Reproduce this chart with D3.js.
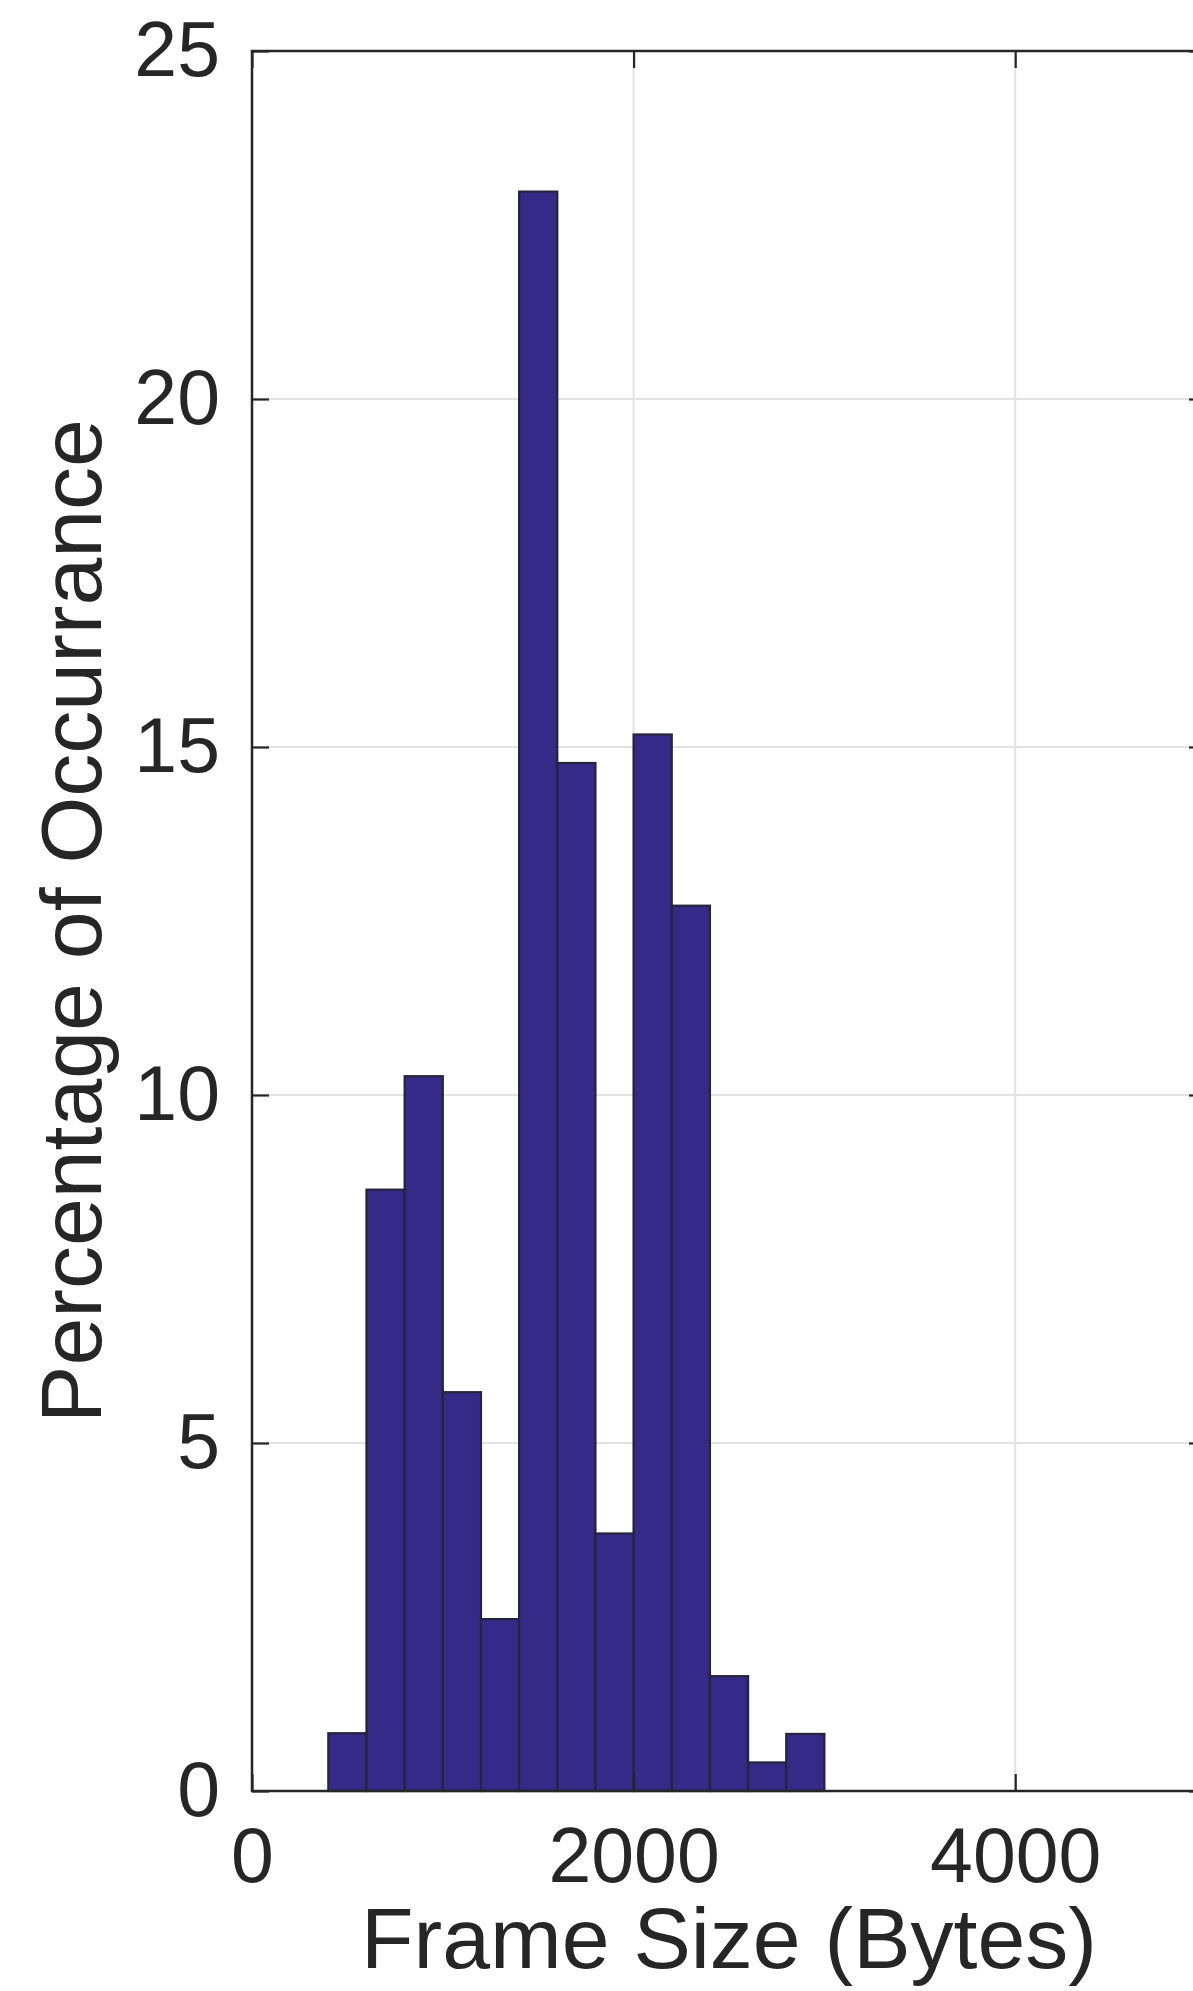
<!DOCTYPE html>
<html>
<head>
<meta charset="utf-8">
<script src="https://cdn.jsdelivr.net/npm/d3@7"></script>
<style>
  html, body { margin: 0; padding: 0; background: #fff; overflow: hidden; }
  svg { display: block; }
  text { font-family: "Liberation Sans", Arial, Helvetica, sans-serif; fill: #262626; }
</style>
</head>
<body>
<svg id="chart" width="1193" height="1991"></svg>
<script>
// Histogram of frame sizes: bin edges (bytes) and share of frames per bin (%)
const binEdges = [400, 600, 800, 1000, 1200, 1400, 1600, 1800, 2000, 2200, 2400, 2600, 2800, 3000];
const percentages = [0.83, 8.64, 10.27, 5.73, 2.47, 22.98, 14.77, 3.70, 15.18, 12.72, 1.65, 0.41, 0.82];
const xTicks = [0, 2000, 4000];
const yTicks = [0, 5, 10, 15, 20, 25];
const xLabel = "Frame Size (Bytes)";
const yLabel = "Percentage of Occurrance";

const bins = percentages.map((v, i) => ({ x0: binEdges[i], x1: binEdges[i + 1], value: v }));

const plot = { left: 252, right: 1206, top: 51, bottom: 1791 };
const tickLen = 17;
const axisColor = "#262626";
const gridColor = "#e2e2e2";

const x = d3.scaleLinear().domain([0, 5000]).range([plot.left, plot.right]);
const y = d3.scaleLinear().domain([0, 25]).range([plot.bottom, plot.top]);

const svg = d3.select("#chart");

// grid lines
const grid = svg.append("g");
grid.selectAll("line.gx").data(xTicks.filter(t => t > 0)).join("line")
  .attr("class", "gx")
  .attr("x1", d => x(d)).attr("x2", d => x(d))
  .attr("y1", plot.top).attr("y2", plot.bottom)
  .attr("stroke", gridColor).attr("stroke-width", 2);
grid.selectAll("line.gy").data(yTicks.filter(t => t > 0 && t < 25)).join("line")
  .attr("class", "gy")
  .attr("x1", plot.left).attr("x2", plot.right)
  .attr("y1", d => y(d)).attr("y2", d => y(d))
  .attr("stroke", gridColor).attr("stroke-width", 2);

// histogram bars
svg.append("g").selectAll("rect").data(bins).join("rect")
  .attr("x", d => x(d.x0))
  .attr("width", d => x(d.x1) - x(d.x0))
  .attr("y", d => y(d.value))
  .attr("height", d => y(0) - y(d.value))
  .attr("fill", "#352a87")
  .attr("stroke", "#26243a")
  .attr("stroke-width", 2.2);

// axes with inward ticks on all four sides
function styleAxis(g) {
  g.selectAll(".domain").remove();
  g.selectAll(".tick line").attr("stroke", axisColor).attr("stroke-width", 2.2);
  g.selectAll(".tick text").attr("fill", axisColor).attr("font-size", 77)
    .attr("font-family", '"Liberation Sans", Arial, Helvetica, sans-serif');
}

svg.append("g").attr("transform", `translate(0,${plot.bottom})`)
  .call(d3.axisBottom(x).tickValues(xTicks).tickSize(-tickLen).tickPadding(36).tickFormat(d3.format("d")))
  .call(styleAxis);

svg.append("g").attr("transform", `translate(0,${plot.top})`)
  .call(d3.axisTop(x).tickValues(xTicks).tickSize(-tickLen).tickFormat(""))
  .call(styleAxis);

svg.append("g").attr("transform", `translate(${plot.left},0)`)
  .call(d3.axisLeft(y).tickValues(yTicks).tickSize(-tickLen).tickPadding(32).tickFormat(d3.format("d")))
  .call(styleAxis);

svg.append("g").attr("transform", `translate(${plot.right},0)`)
  .call(d3.axisRight(y).tickValues(yTicks).tickSize(-tickLen).tickFormat(""))
  .call(styleAxis);

// axes box
svg.append("rect")
  .attr("x", plot.left).attr("y", plot.top)
  .attr("width", plot.right - plot.left).attr("height", plot.bottom - plot.top)
  .attr("fill", "none").attr("stroke", axisColor).attr("stroke-width", 2.5);

// axis labels
svg.append("text")
  .attr("x", (plot.left + plot.right) / 2).attr("y", 1968)
  .attr("text-anchor", "middle").attr("font-size", 86)
  .text(xLabel);

svg.append("text")
  .attr("transform", `translate(101,${(plot.top + plot.bottom) / 2}) rotate(-90)`)
  .attr("text-anchor", "middle").attr("font-size", 86)
  .text(yLabel);
</script>
</body>
</html>
